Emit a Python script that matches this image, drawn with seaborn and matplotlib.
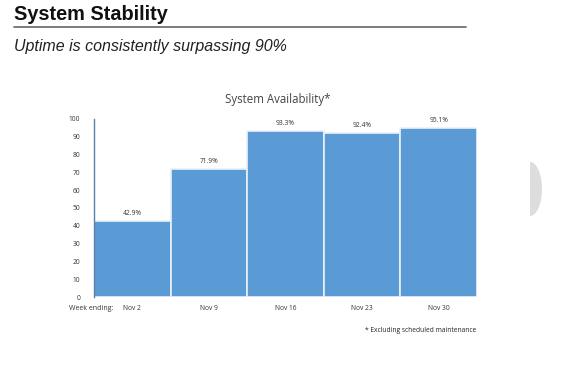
import matplotlib
matplotlib.use("Agg")
import matplotlib.pyplot as plt
import seaborn as sns
import pandas as pd
from matplotlib.patches import Ellipse

weeks = ["Nov 2", "Nov 9", "Nov 16", "Nov 23", "Nov 30"]
availability = [42.9, 71.9, 93.3, 92.4, 95.1]
yticks = [0, 10, 20, 30, 40, 50, 60, 70, 80, 90, 100]

sns.set_theme(style="white")
plt.rcParams["font.family"] = ["Liberation Sans", "DejaVu Sans"]

df = pd.DataFrame({"week": weeks, "value": availability})

fig = plt.figure(figsize=(5.7, 3.79), dpi=100)
fig.patch.set_facecolor("white")
ax = fig.add_axes([94 / 570, 1 - 297 / 379, 383 / 570, 178 / 379])

sns.barplot(data=df, x="week", y="value", color="#5B9BD5", saturation=1,
            width=1.0, edgecolor="#EAF1FA", linewidth=1.2, ax=ax)

ax.set_ylim(0, 100)
ax.set_xlim(-0.5, 4.5)
ax.set_yticks(yticks)
ax.set_yticklabels([str(t) for t in yticks], fontsize=4.8, color="#333333", family="Open Sans")
ax.tick_params(axis="y", length=0, pad=10)
ax.tick_params(axis="x", length=0, pad=6)
ax.set_xticks(range(len(weeks)))
ax.set_xticklabels(weeks, fontsize=4.8, color="#333333", family="Open Sans")
ax.set_xlabel("")
ax.set_ylabel("")
for s in ["top", "right", "bottom"]:
    ax.spines[s].set_visible(False)
ax.spines["left"].set_color("#5B7FA8")
ax.spines["left"].set_linewidth(1.0)

for i, v in enumerate(availability):
    ax.text(i, v + 2, f"{v}%", ha="center", va="bottom", fontsize=4.8,
            color="#333333", family="Open Sans")

fig.text(278 / 570, 1 - 100 / 379, "System Availability*", ha="center", va="center",
         fontsize=8.3, color="#444444", family="Open Sans")
fig.text(91 / 570, 1 - 308 / 379, "Week ending:", ha="center", va="center",
         fontsize=5, color="#333333", family="Open Sans")
fig.text(476 / 570, 1 - 330 / 379, "* Excluding scheduled maintenance", ha="right",
         va="center", fontsize=4.8, color="#222222", family="Open Sans")

fig.text(14 / 570, 1 - 15 / 379, "System Stability", ha="left", va="center",
         fontsize=14.3, fontweight="bold", color="#111111")
fig.add_artist(plt.Line2D([14 / 570, 466 / 570], [1 - 27 / 379, 1 - 27 / 379],
                          transform=fig.transFigure, color="#666666", linewidth=1.2))
fig.text(14 / 570, 1 - 47 / 379, "Uptime is consistently surpassing 90%", ha="left",
         va="center", fontsize=11.5, style="italic", color="#222222")

fig.add_artist(Ellipse((530 / 570, 1 - 189 / 379), width=24 / 570, height=54 / 379,
                       transform=fig.transFigure, facecolor="#DDDDDD", edgecolor="none"))
fig.add_artist(plt.Rectangle((500 / 570, 1 - 220 / 379), 30 / 570, 60 / 379,
                             transform=fig.transFigure, facecolor="white", edgecolor="none"))

fig.savefig("out.png", dpi=100)
